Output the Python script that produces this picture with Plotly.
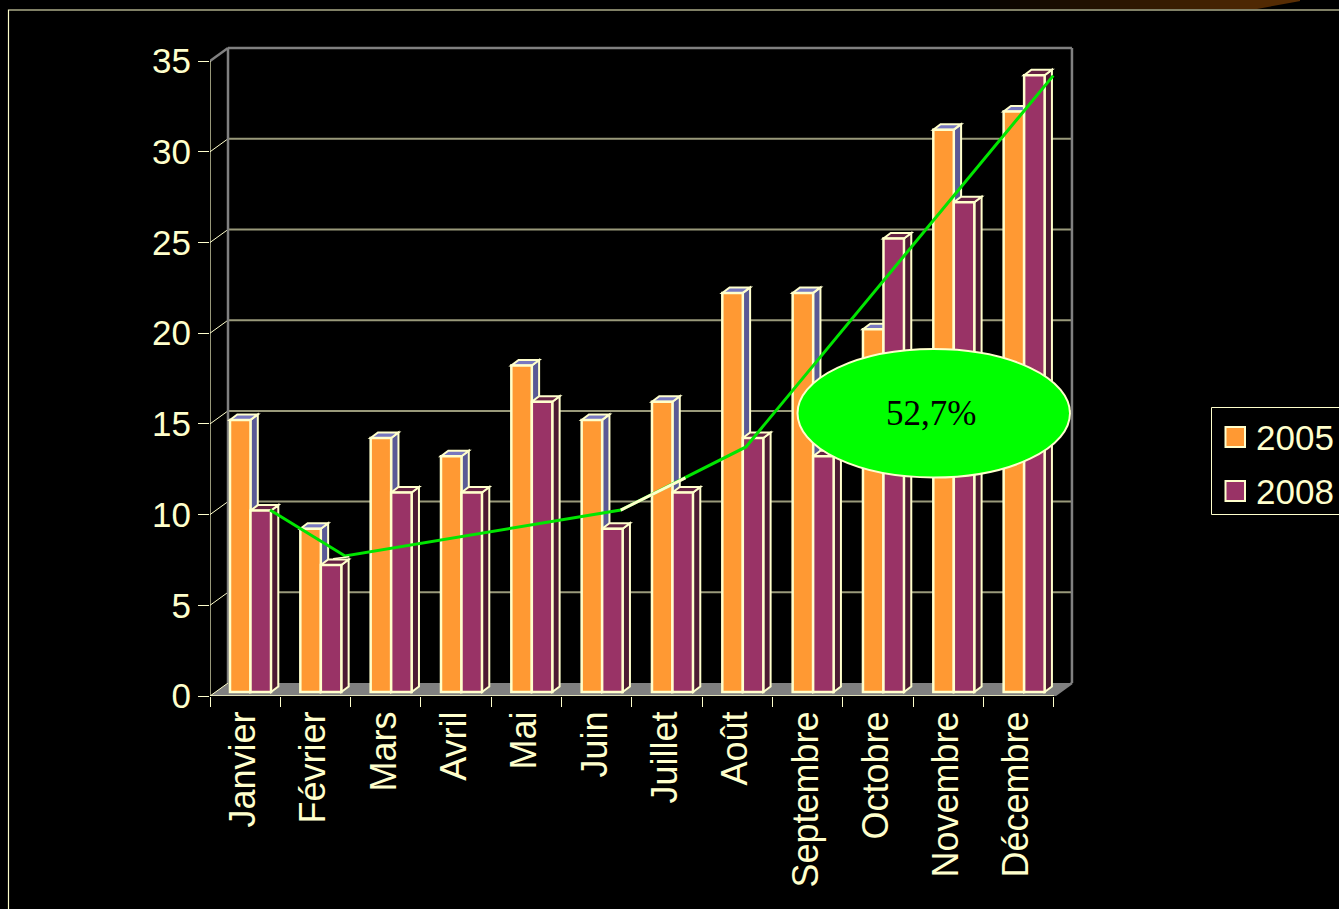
import plotly.graph_objects as go

months = ["Janvier", "Février", "Mars", "Avril", "Mai", "Juin", "Juillet", "Août",
          "Septembre", "Octobre", "Novembre", "Décembre"]
values_2005 = [15, 9, 14, 13, 18, 15, 16, 22, 22, 20, 31, 32]
values_2008 = [10, 7, 11, 11, 16, 9, 11, 14, 13, 25, 27, 34]
trend_x = [0.854, 1.92, 5.84, 7.62, 11.99]
trend_y = [10.25, 7.72, 10.25, 13.73, 34.2]
pale_a_x = [1.75, 1.98]
pale_a_y = [7.57, 7.68]
pale_b_x = [5.84, 6.76]
pale_b_y = [10.25, 12.02]
y_ticks = [0, 5, 10, 15, 20, 25, 30, 35]

W, H = 1339, 909
PX_X, PX_Y = 70.33, 18.14
X0, Y0 = 210, 696
X1, Y1 = 1076, 43
CREAM, GREY, GRID = "#FFFFCC", "#808080", "#99997A"
ORANGE, PURPLE = "#FF9933", "#993366"
BAR_W = 20.5 / PX_X
OFF_A, OFF_B = 20 / PX_X, 40.5 / PX_X
LIFT = 4 / PX_Y
DX, DY = 7.3 / PX_X, 5.5 / PX_Y
WALL_X, WALL_Y = 18 / PX_X, 13 / PX_Y

shapes = []


def line(x0, y0, x1, y1, color, width=1.5, layer="below"):
    shapes.append(dict(type="line", xref="x", yref="y", x0=x0, y0=y0, x1=x1, y1=y1,
                       line=dict(color=color, width=width), layer=layer))


def poly(points, fill, width=2, outline=CREAM, layer="below"):
    p = "M" + " L".join(f"{a:.4f},{b:.4f}" for a, b in points) + " Z"
    shapes.append(dict(type="path", xref="x", yref="y", path=p, fillcolor=fill,
                       line=dict(color=outline, width=width), layer=layer))


# slide frame and top-right glow
for i in range(34):
    a = 960 + i * 10
    t = i / 33
    col = f"rgb({int(90 * t)},{int(46 * t)},{int(4 * t)})"
    if a < 1305:
        shapes.append(dict(type="rect", xref="paper", yref="paper", layer="below",
                           x0=a / W, x1=(a + 10) / W, y0=1 - 9 / H, y1=1,
                           fillcolor=col, line=dict(width=0)))
shapes.append(dict(type="path", xref="paper", yref="paper", layer="below",
                   path=f"M{1257 / W},{1 - 9 / H} L{1306 / W},1 L{1339 / W},1 L{1339 / W},{1 - 9 / H} Z",
                   fillcolor="black", line=dict(width=0)))
shapes.append(dict(type="path", xref="paper", yref="paper", layer="below",
                   path=f"M{8.5 / W},0 L{8.5 / W},{1 - 10 / H} L1,{1 - 10 / H}",
                   line=dict(color=CREAM, width=1.2)))

# floor
n = len(months)
poly([(0, 0), (n, 0), (n + WALL_X, WALL_Y), (WALL_X, WALL_Y)], GREY, 0, GREY)
# back wall grid
for v in y_ticks[1:-1]:
    line(WALL_X, v + WALL_Y, n + WALL_X, v + WALL_Y, GRID, 2)
for v in y_ticks[:-1]:
    line(0, v, WALL_X, v + WALL_Y, CREAM, 1)
top = y_ticks[-1] + WALL_Y
line(0, y_ticks[-1], WALL_X, top, GREY, 2.5)
line(WALL_X, WALL_Y, WALL_X, top, GREY, 2.5)
line(WALL_X, top, n + WALL_X, top, GREY, 2.5)
line(n + WALL_X, top, n + WALL_X, WALL_Y, GREY, 2.5)
line(n + WALL_X, WALL_Y, n, 0, GREY, 2.5)
# front axes
line(0, 0, 0, y_ticks[-1], CREAM, 1.2)
line(0, 0, n, 0, CREAM, 1.5)

# 3D sides and tops, built from the values
for vals, off, side, cap in [(values_2005, OFF_A, "#5A5A96", "#7878C0"),
                             (values_2008, OFF_B, "#4D1A33", "#662244")]:
    for i, v in enumerate(vals):
        l = i + off
        r = l + BAR_W
        t = v + LIFT
        poly([(r, LIFT), (r + DX, LIFT + DY), (r + DX, t + DY), (r, t)], side)
        poly([(l, t), (r, t), (r + DX, t + DY), (l + DX, t + DY)], cap)

centers = [i + 0.5 for i in range(n)]
fig = go.Figure()
fig.add_bar(x=[i + OFF_A for i in range(n)], y=values_2005, base=LIFT, width=BAR_W, offset=0,
            name="2005", marker=dict(color=ORANGE, line=dict(color=CREAM, width=2.5)))
fig.add_bar(x=[i + OFF_B for i in range(n)], y=values_2008, base=LIFT, width=BAR_W, offset=0,
            name="2008", marker=dict(color=PURPLE, line=dict(color=CREAM, width=2.5)))
fig.add_scatter(x=trend_x, y=trend_y, mode="lines", line=dict(color="#00E600", width=3), showlegend=False)
fig.add_scatter(x=pale_b_x, y=pale_b_y, mode="lines", line=dict(color=CREAM, width=3), showlegend=False)
fig.add_scatter(x=pale_a_x, y=pale_a_y, mode="lines", line=dict(color=CREAM, width=1.5), showlegend=False)

# bubble
shapes.append(dict(type="circle", xref="paper", yref="paper", layer="above",
                   x0=797.5 / W, x1=1070 / W, y0=1 - 477.5 / H, y1=1 - 349 / H,
                   fillcolor="#00FF00", line=dict(color=CREAM, width=2)))
# legend box
shapes.append(dict(type="rect", xref="paper", yref="paper", layer="above",
                   x0=1211.5 / W, x1=1345 / W, y0=1 - 514.5 / H, y1=1 - 407.5 / H,
                   fillcolor="black", line=dict(color=CREAM, width=1)))
annotations = [dict(text="52,7%", xref="paper", yref="paper", x=931 / W, y=1 - 414 / H, showarrow=False,
                    xanchor="center", yanchor="middle",
                    font=dict(family="Liberation Serif", size=35, color="black"))]
for name, col, yc in [("2005", ORANGE, 437), ("2008", PURPLE, 491)]:
    shapes.append(dict(type="rect", xref="paper", yref="paper", layer="above",
                       x0=1225.5 / W, x1=1245 / W, y0=1 - (yc + 10) / H, y1=1 - (yc - 10) / H,
                       fillcolor=col, line=dict(color=CREAM, width=2)))
    annotations.append(dict(text=name, xref="paper", yref="paper", x=1254 / W, y=1 - yc / H,
                            showarrow=False, xanchor="left", yanchor="middle",
                            font=dict(family="Liberation Sans", size=35, color=CREAM)))

fig.update_layout(
    width=W, height=H, autosize=False, margin=dict(l=0, r=0, t=0, b=0),
    paper_bgcolor="black", plot_bgcolor="black", showlegend=False, barmode="overlay",
    font=dict(family="Liberation Sans", size=35, color=CREAM),
    shapes=shapes, annotations=annotations,
    xaxis=dict(domain=[X0 / W, X1 / W], range=[0, (X1 - X0) / PX_X], showgrid=False, zeroline=False,
               automargin=False, tickmode="array", tickvals=centers, ticktext=months, tickangle=-90,
               ticks="outside", ticklen=0, tickcolor="rgba(0,0,0,0)", tickfont=dict(size=36),
               ticklabelshift=-2,
               minor=dict(tickmode="array", tickvals=list(range(n + 1)), ticks="outside", ticklen=10,
                          tickcolor=CREAM, tickwidth=1.2, showgrid=False)),
    yaxis=dict(domain=[1 - Y0 / H, 1 - Y1 / H], range=[0, (Y0 - Y1) / PX_Y], showgrid=False, zeroline=False,
               automargin=False, tickmode="array", tickvals=y_ticks, ticks="outside", ticklen=11,
               tickcolor=CREAM, tickwidth=1.2),
)
fig.write_html("out.html", config=dict(displayModeBar=False),
               post_script="document.body.style.margin='0';document.body.style.background='black';")
